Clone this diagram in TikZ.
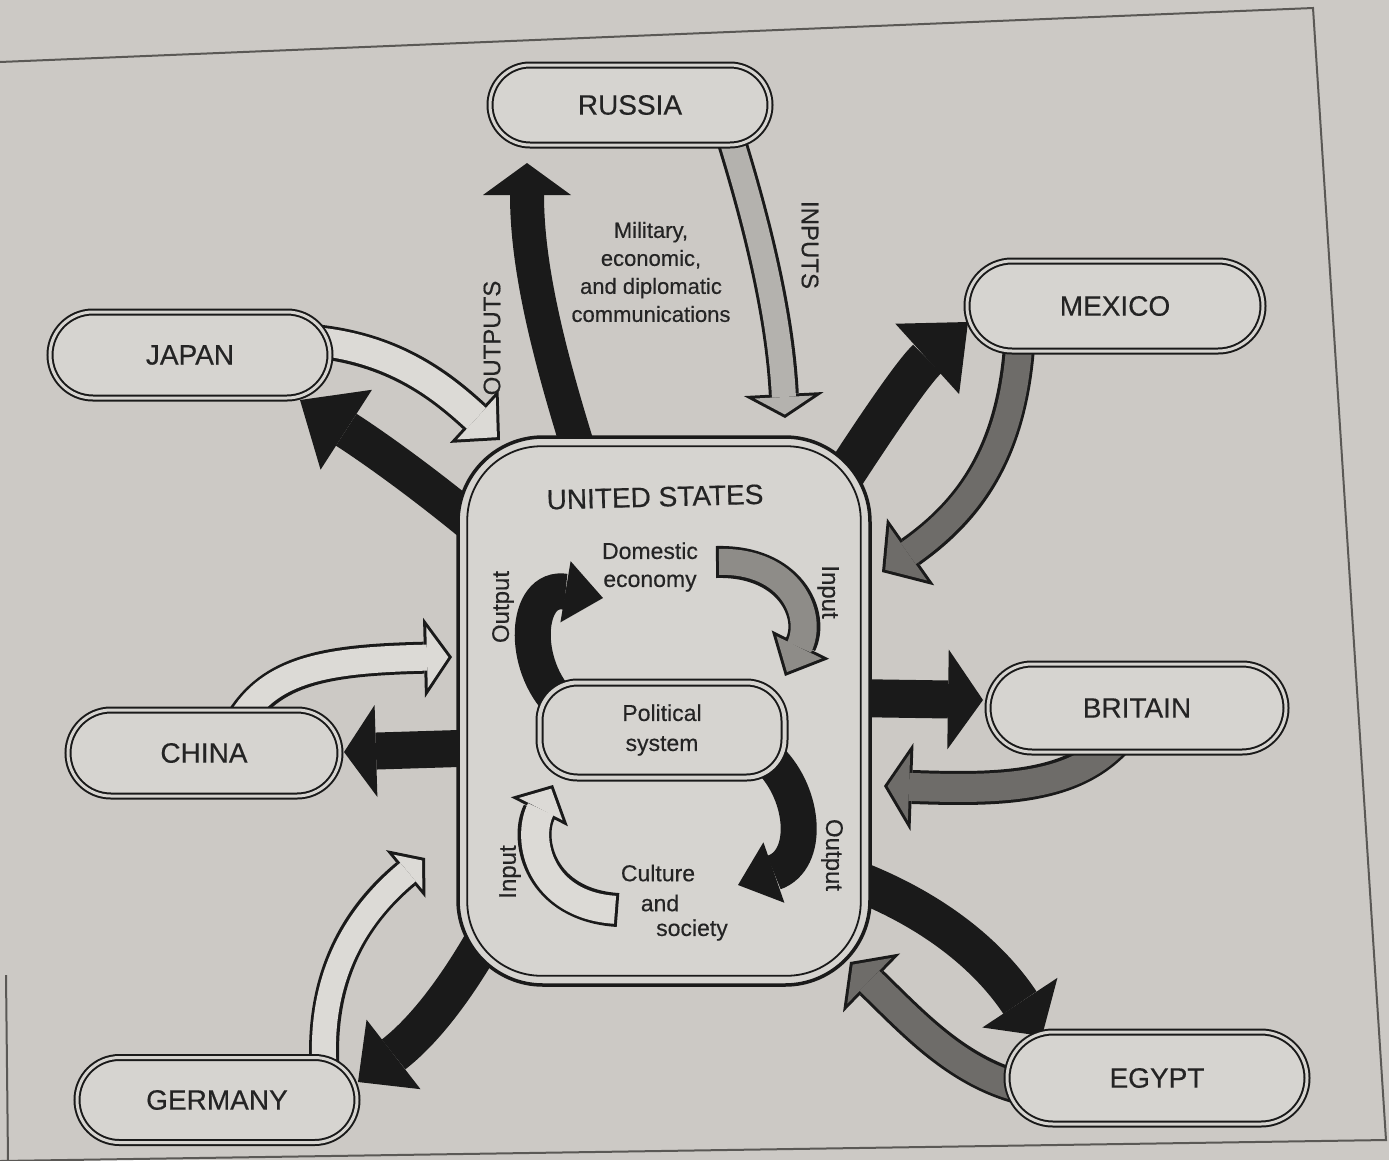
\documentclass[tikz,border=0pt]{standalone}
\usepackage{fontspec}
\setmainfont[FakeBold=0.4]{Liberation Sans}
\usetikzlibrary{arrows.meta,calc,shapes.misc}
\definecolor{bgc}{HTML}{CCC9C5}
\definecolor{boxc}{HTML}{D6D4D0}
\definecolor{inkc}{HTML}{1A1A1A}
\definecolor{labc}{HTML}{242424}
\definecolor{framec}{HTML}{5A5855}
\definecolor{whitec}{HTML}{DCDAD6}
\definecolor{speckc}{HTML}{6E6C69}
\definecolor{speckl}{HTML}{8E8C88}
\definecolor{specklt}{HTML}{B4B2AE}
\newcommand{\hbrd}{3}
\newcommand{\solidarr}[4]{\draw[inkc, line width=#1pt, -{Triangle[length=#2pt,width=#3pt,line width=0pt]}] #4;}
\newcommand{\hollowarr}[5]{%
  \pgfmathsetmacro\hAng{atan((#4)/2/(#3))}%
  \pgfmathsetmacro\hSh{\hbrd/sin(\hAng)}%
  \pgfmathsetmacro\hIL{#3-\hbrd-\hSh}%
  \pgfmathsetmacro\hIW{2*\hIL*tan(\hAng)}%
  \pgfmathsetmacro\hIw{#2-2*\hbrd}%
  \draw[inkc, line width=#2pt, -{Triangle[length=#3pt,width=#4pt,line width=0pt]}] #5;%
  \draw[#1, line width=\hIw pt, shorten >=\hSh pt, shorten <=\hbrd pt, -{Triangle[length=\hIL pt,width=\hIW pt,line width=0pt]}] #5;%
}
\tikzset{
  country/.style={rounded rectangle, draw=inkc, line width=2pt, double=boxc, double distance=3pt,
    fill=boxc, text=labc, font=\fontsize{28}{32}\selectfont, inner sep=0pt},
  lab24/.style={text=labc, font=\fontsize{24}{28}\selectfont, inner sep=0pt},
  lab23/.style={text=labc, font=\fontsize{23}{28}\selectfont, inner sep=0pt, align=center},
}
\begin{document}
\begin{tikzpicture}[x=1pt,y=-1pt]
\useasboundingbox (0,0) rectangle (1389,1160);
\fill[bgc] (0,0) rectangle (1389,1160);
% page frame
\coordinate (f1) at (0,62);
\coordinate (f2) at (1313,8);
\coordinate (f3) at (1386,1140);
\coordinate (f4) at (0,1161);
\draw[framec, line width=2pt] (f1) -- (f2) -- (f3) -- (f4);
\coordinate (f5) at (6,975);
\coordinate (f6) at (8,1160);
\draw[framec, line width=2pt] (f5) -- (f6);

% arrow end points
\coordinate (ruOs) at (585,470);  \coordinate (ruOe) at (527,163);
\coordinate (ruIs) at (725,120);  \coordinate (ruIe) at (785,418);
\coordinate (jaIs) at (300,340);  \coordinate (jaIe) at (500,440);
\coordinate (jaOs) at (478,528);  \coordinate (jaOe) at (300,400);
\coordinate (meOs) at (835,490);  \coordinate (meOe) at (968,322);
\coordinate (meIs) at (1020,330); \coordinate (meIe) at (882,572);
\coordinate (brOs) at (850,698);  \coordinate (brOe) at (983,700);
\coordinate (brIs) at (1125,730); \coordinate (brIe) at (884,786);
\coordinate (chIs) at (238,725);  \coordinate (chIe) at (452,657);
\coordinate (chOs) at (475,748);  \coordinate (chOe) at (344,752);
\coordinate (geIs) at (325,1075); \coordinate (geIe) at (425,858);
\coordinate (geOs) at (495,920);  \coordinate (geOe) at (358,1082);
\coordinate (egOs) at (855,880);  \coordinate (egOe) at (1042,1036);
\coordinate (egIs) at (1030,1090);\coordinate (egIe) at (850,962);

% external arrows
\solidarr{34}{32}{88}{(ruOs) .. controls (550,360) and (527,270) .. (ruOe)}
\hollowarr{specklt}{30}{24}{80}{(ruIs) .. controls (760,230) and (780,320) .. (ruIe)}
\hollowarr{whitec}{34}{35}{72}{(jaIs) .. controls (390,345) and (440,385) .. (jaIe)}
\solidarr{38}{55}{95}{(jaOs) .. controls (420,480) and (370,445) .. (jaOe)}
\solidarr{40}{55}{95}{(meOs) .. controls (880,420) and (915,370) .. (meOe)}
\hollowarr{speckc}{32}{35}{82}{(meIs) .. controls (1015,450) and (970,510) .. (meIe)}
\solidarr{38}{35}{100}{(brOs) -- (brOe)}
\hollowarr{speckc}{34}{28}{88}{(brIs) .. controls (1080,790) and (1000,790) .. (brIe)}
\hollowarr{whitec}{32}{28}{80}{(chIs) .. controls (270,668) and (330,660) .. (chIe)}
\solidarr{37}{32}{92}{(chOs) -- (chOe)}
\hollowarr{whitec}{30}{25}{62}{(geIs) .. controls (318,985) and (350,920) .. (geIe)}
\solidarr{38}{45}{88}{(geOs) .. controls (460,985) and (425,1030) .. (geOe)}
\solidarr{40}{40}{90}{(egOs) .. controls (945,915) and (995,965) .. (egOe)}
\hollowarr{speckc}{34}{30}{82}{(egIs) .. controls (960,1075) and (915,1025) .. (egIe)}

% country boxes
\node[country, minimum width=280pt, minimum height=80pt] (russia) at (630,105) {RUSSIA};
\node[country, minimum width=280pt, minimum height=86pt] (japan) at (190,355) {JAPAN};
\node[country, minimum width=296pt, minimum height=90pt] (mexico) at (1115,306) {MEXICO};
\node[country, minimum width=272pt, minimum height=86pt] (china) at (204,753) {CHINA};
\node[country, minimum width=298pt, minimum height=88pt] (britain) at (1137,708) {BRITAIN};
\node[country, minimum width=280pt, minimum height=85pt] (germany) at (217,1100) {GERMANY};
\node[country, minimum width=300pt, minimum height=92pt] (egypt) at (1157,1078) {EGYPT};

% United States box
\node[draw=inkc, line width=3.5pt, fill=boxc, rounded corners=85pt,
      minimum width=412pt, minimum height=548pt, inner sep=0pt] (us) at (664,711) {};
\draw[inkc, line width=1.8pt, rounded corners=74pt]
  ($(us.south west)+(11,-11)$) rectangle ($(us.north east)+(-11,11)$);
\node[text=labc, font=\fontsize{28}{32}\selectfont, inner sep=0pt, rotate=1.5] (ustitle) at (655,497) {UNITED STATES};

% inner arrows
\coordinate (d1s) at (562,705); \coordinate (d1e) at (603,598);
\coordinate (d2s) at (716,562); \coordinate (d2e) at (785,676);
\coordinate (c1s) at (618,910); \coordinate (c1e) at (553,785);
\coordinate (c2s) at (770,760); \coordinate (c2e) at (738,885);
\solidarr{36}{38}{62}{(d1s) .. controls (520,665) and (525,585) .. (d1e)}
\hollowarr{speckl}{32}{35}{64}{(d2s) .. controls (790,560) and (815,615) .. (d2e)}
\hollowarr{whitec}{34}{30}{64}{(c1s) .. controls (540,905) and (525,840) .. (c1e)}
\solidarr{36}{38}{64}{(c2s) .. controls (805,795) and (810,860) .. (c2e)}

% political system
\node[draw=inkc, line width=2pt, double=boxc, double distance=4pt, fill=boxc,
      rounded corners=38pt, minimum width=245pt, minimum height=95pt,
      lab23, font=\fontsize{23}{30}\selectfont] (pol) at (662,730) {Political\\system};

% inner labels
\node[lab23] (dom) at (650,567) {Domestic\\economy};
\node[lab23] (cu1) at (658,873) {Culture};
\node[lab23] (cu2) at (660,903) {and};
\node[lab23] (cu3) at (692,930) {society};
\node[lab24, rotate=90] (outL) at (503,607) {Output};
\node[lab24, rotate=-90] (inR) at (828,592) {Input};
\node[lab24, rotate=90] (inL) at (510,872) {Input};
\node[lab24, rotate=-90] (outR) at (832,855) {Output};

% top labels
\node[lab24, rotate=90] (outs) at (492,338) {OUTPUTS};
\node[lab24, rotate=-90] (ins) at (810,245) {INPUTS};
\node[lab23, font=\fontsize{22}{28}\selectfont] (mil) at (651,272) {Military,\\economic,\\and diplomatic\\communications};
\end{tikzpicture}
\end{document}
